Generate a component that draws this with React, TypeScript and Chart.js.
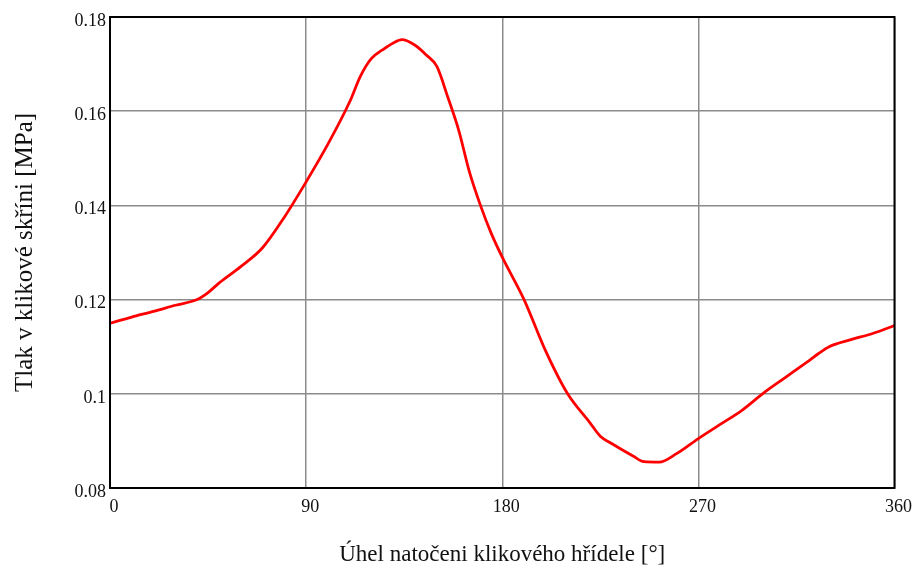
import React, { useEffect, useRef } from "react";
import { Chart, registerables } from "chart.js";

Chart.register(...registerables);

const angles = [0, 10, 20, 30, 40, 45, 50, 60, 70, 80, 90, 100, 110, 115, 120, 125, 130, 134, 140, 145, 150, 155, 160, 165, 170, 175, 180, 190, 200, 210, 220, 225, 230, 240, 245, 252, 260, 270, 280, 290, 300, 310, 320, 325, 330, 340, 350, 360];
const pressure = [0.115, 0.1163, 0.1175, 0.1188, 0.12, 0.1215, 0.1235, 0.127, 0.131, 0.1375, 0.145, 0.153, 0.162, 0.1675, 0.1712, 0.173, 0.1745, 0.1752, 0.174, 0.172, 0.1695, 0.163, 0.156, 0.147, 0.14, 0.134, 0.129, 0.12, 0.109, 0.1, 0.094, 0.091, 0.0895, 0.0868, 0.0856, 0.0855, 0.0873, 0.0905, 0.0935, 0.0965, 0.1002, 0.1035, 0.1068, 0.1085, 0.11, 0.1115, 0.1128, 0.1145];
const xTitle = "Úhel natočeni klikového hřídele [°]";
const yTitle = "Tlak v klikové skříni [MPa]";

const FONT = "'Liberation Serif', 'Times New Roman', serif";

const framePlugin = {
  id: "frame",
  afterDraw(chart: any) {
    const { ctx, chartArea } = chart;
    ctx.save();
    ctx.strokeStyle = "#000";
    ctx.lineWidth = 2;
    ctx.strokeRect(chartArea.left, chartArea.top, chartArea.right - chartArea.left, chartArea.bottom - chartArea.top);
    ctx.restore();
  },
};

export default function App() {
  const ref = useRef<HTMLCanvasElement>(null);
  useEffect(() => {
    const data = angles.map((a, i) => ({ x: a, y: pressure[i] }));
    const chart = new Chart(ref.current!, {
      type: "line",
      data: {
        datasets: [
          {
            data,
            borderColor: "#ff0000",
            borderWidth: 2.8,
            pointRadius: 0,
            cubicInterpolationMode: "monotone",
            fill: false,
          },
        ],
      },
      options: {
        animation: false,
        responsive: false,
        maintainAspectRatio: false,
        layout: { padding: { top: 17, right: 20, left: 0, bottom: 0 } },
        plugins: { legend: { display: false }, tooltip: { enabled: false } },
        scales: {
          x: {
            type: "linear",
            min: 0,
            max: 360,
            afterFit: (s: any) => { s.height = 83; },
            ticks: { stepSize: 90, color: "#111", font: { family: FONT, size: 18 }, padding: 8, labelOffset: 4, maxRotation: 0 },
            grid: { color: "#8c8c8c", lineWidth: 1.5, drawTicks: false },
            border: { display: false },
            title: { display: true, text: xTitle, color: "#111", font: { family: FONT, size: 23 }, padding: { top: 10, bottom: 2 } },
          },
          y: {
            min: 0.08,
            max: 0.18,
            afterFit: (s: any) => { s.width = 110; },
            ticks: {
              stepSize: 0.02,
              color: "#111",
              font: { family: FONT, size: 18 },
              padding: 4,
              labelOffset: 4,
              callback: (v: any) => String(parseFloat(Number(v).toFixed(2))),
            },
            grid: { color: "#8c8c8c", lineWidth: 1.5, drawTicks: false },
            border: { display: false },
            title: { display: true, text: yTitle, color: "#111", font: { family: FONT, size: 25 }, padding: { top: 10, bottom: 0 } },
          },
        },
      },
      plugins: [framePlugin],
    });
    return () => chart.destroy();
  }, []);
  return (
    <div style={{ position: "fixed", left: 0, top: 0, width: 916, height: 571, background: "#fff" }}>
      <canvas ref={ref} width={916} height={571} style={{ display: "block" }} />
    </div>
  );
}
